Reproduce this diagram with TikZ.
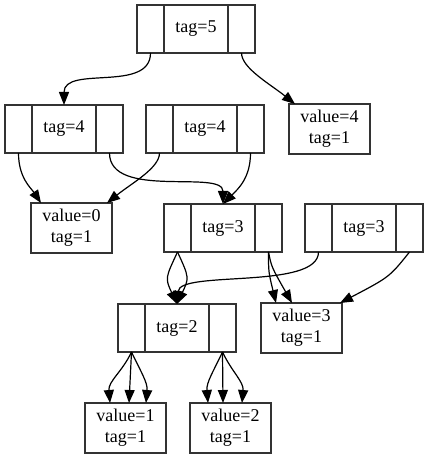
\documentclass[tikz,border=0pt]{standalone}
\usepackage{fontspec}
\setmainfont{Liberation Serif}
\usetikzlibrary{arrows.meta, positioning}

\begin{document}
\begin{tikzpicture}[x=1pt, y=1pt,
  >={Triangle[length=13pt, width=10pt]},
  cell/.style={draw=black!80, line width=1.5pt, minimum height=48pt,
    inner sep=0pt, outer sep=0pt, font=\fontsize{18}{21}\selectfont},
  midcell/.style={cell, minimum width=64pt},
  sidecell/.style={cell, minimum width=27pt},
  leafbox/.style={cell, minimum width=81pt, minimum height=50pt, align=center},
  link/.style={->, line width=1.2pt}]

% Background
\fill[white] (0,0) rectangle (428,460);

% Records (left cell | tag | right cell)
\node[midcell] (tag5) at (196,431) {tag=5};
\node[sidecell, left=0pt of tag5] (tag5-l) {};
\node[sidecell, right=0pt of tag5] (tag5-r) {};

\node[midcell] (tag4a) at (64,331) {tag=4};
\node[sidecell, left=0pt of tag4a] (tag4a-l) {};
\node[sidecell, right=0pt of tag4a] (tag4a-r) {};

\node[midcell] (tag4b) at (205,331) {tag=4};
\node[sidecell, left=0pt of tag4b] (tag4b-l) {};
\node[sidecell, right=0pt of tag4b] (tag4b-r) {};

\node[midcell] (tag3a) at (223,232) {tag=3};
\node[sidecell, left=0pt of tag3a] (tag3a-l) {};
\node[sidecell, right=0pt of tag3a] (tag3a-r) {};

\node[midcell] (tag3b) at (364,232) {tag=3};
\node[sidecell, left=0pt of tag3b] (tag3b-l) {};
\node[sidecell, right=0pt of tag3b] (tag3b-r) {};

\node[midcell] (tag2) at (177,132) {tag=2};
\node[sidecell, left=0pt of tag2] (tag2-l) {};
\node[sidecell, right=0pt of tag2] (tag2-r) {};

% Leaves
\node[leafbox] (val4) at (329.5,331) {value=4\\tag=1};
\node[leafbox] (val0) at (71.5,232) {value=0\\tag=1};
\node[leafbox] (val3) at (301.5,132) {value=3\\tag=1};
\node[leafbox] (val1) at (125.5,32) {value=1\\tag=1};
\node[leafbox] (val2) at (230.5,32) {value=2\\tag=1};

% --- tag=5 ---
\draw[link] (tag5-l.south) .. controls +(0,-40) and +(0,40) .. (tag4a.north);
\draw[link] (tag5-r.south) .. controls +(0,-15) and +(-25,20) .. ([xshift=6pt]val4.north west);

% --- tag=4 ---
\draw[link] (tag4a-l.south) .. controls +(0,-25) and +(-10,15) .. ([xshift=10pt]val0.north west);
\draw[link] (tag4a-r.south) .. controls +(0,-47) and +(0,35) .. (tag3a.north);
\draw[link] (tag4b-l.south) .. controls +(0,-15) and +(25,20) .. ([xshift=-5pt]val0.north east);
\draw[link] (tag4b-r.south) .. controls +(0,-25) and +(15,15) .. (tag3a.north);

% --- tag=3 ---
\draw[link] (tag3a-l.south) to[out=-115, in=115, looseness=1.4] (tag2.north);
\draw[link] (tag3a-l.south) to[out=-65, in=65, looseness=1.4] (tag2.north);
\draw[link] (tag3a-r.south) .. controls +(0,-20) .. ([xshift=15pt]val3.north west);
\draw[link] (tag3a-r.south) .. controls +(3,-15) .. ([xshift=31pt]val3.north west);
\draw[link] (tag3b-l.south) .. controls +(0,-38) and +(3,34) .. (tag2.north);
\draw[link] (tag3b-r.south) .. controls +(-20,-25) .. ([xshift=-2pt]val3.north east);

% --- tag=2 ---
\draw[link] (tag2-l.south) to[out=-115, in=95] ([xshift=-15.5pt]val1.north);
\draw[link] (tag2-l.south) -- ([xshift=3.5pt]val1.north);
\draw[link] (tag2-l.south) to[out=-65, in=85] ([xshift=20.5pt]val1.north);
\draw[link] (tag2-r.south) to[out=-115, in=95] ([xshift=-22.5pt]val2.north);
\draw[link] (tag2-r.south) -- ([xshift=-7.5pt]val2.north);
\draw[link] (tag2-r.south) to[out=-65, in=85] ([xshift=11.5pt]val2.north);

\end{tikzpicture}
\end{document}
